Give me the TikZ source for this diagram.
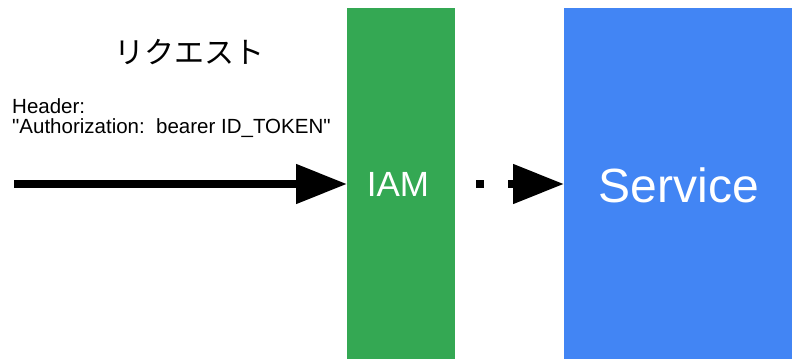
\documentclass[tikz,border=0pt]{standalone}
\usepackage{fontspec}
\setmainfont{Liberation Sans}[Ligatures=TeXOff]
\newfontfamily\jpfont{Noto Sans CJK JP}
\usetikzlibrary{arrows.meta}
\definecolor{iamgreen}{HTML}{34A853}
\definecolor{svcblue}{HTML}{4285F4}
\tikzset{
  column/.style={anchor=north west, inner sep=0pt, text=white},
  flow/.style={line width=8pt, -{Triangle[length=51pt,width=38pt]}},
}
\begin{document}
\begin{tikzpicture}[x=1pt,y=-1pt]
\useasboundingbox (0,0) rectangle (792,359);
% gateway and backend columns
\node[column, fill=iamgreen, minimum width=108pt, minimum height=351pt] (iam) at (347,8) {};
\node[column, fill=svcblue, minimum width=228pt, minimum height=351pt] (svc) at (564,8) {};
\node[text=white, font=\fontsize{35}{40}\selectfont] (iamlabel) at (398,184) {IAM};
\node[text=white, font=\fontsize{48}{54}\selectfont] (svclabel) at (679,185) {Service};
% request caption and header text
\node[font=\jpfont\fontsize{30}{36}\selectfont] (req) at (189,52) {リクエスト};
\node[anchor=base west, align=left, inner sep=0pt, font=\fontsize{20.5}{20}\selectfont] (hdr) at (12,133)
  {Header:\\"Authorization:\ \ bearer ID\_TOKEN"};
% connectors
\coordinate (src) at (14,184);
\draw[flow] (src) -- (iam.west |- src);
\draw[flow, dash pattern=on 8pt off 24pt, dash phase=11pt] (iam.east |- src) -- (svc.west |- src);
\end{tikzpicture}
\end{document}
